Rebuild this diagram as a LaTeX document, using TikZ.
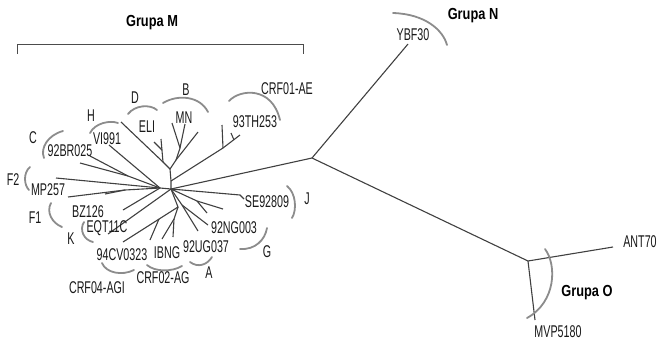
\documentclass[tikz,border=0pt]{standalone}
\usepackage{fontspec}
\setmainfont{Liberation Sans}[FakeStretch=0.63]
\newfontfamily\grp{Liberation Sans}[FakeStretch=0.8]
\begin{document}
\begin{tikzpicture}[x=1pt,y=-1pt]
\tikzset{
  br/.style={draw=black!75, line width=1.1pt},
  grparc/.style={draw=black!45, line width=1.8pt, line cap=round},
  lbl/.style={inner sep=0pt, text=black!90, font=\fontsize{17}{17}\selectfont},
  glbl/.style={inner sep=0pt, text=black, font=\grp\bfseries\fontsize{16}{16}\selectfont}
}
\useasboundingbox (0,0) rectangle (658,341);
% --- tree coordinates
\coordinate (O) at (171,189);
\coordinate (T0) at (171,181);
\coordinate (T1) at (170,169);
\coordinate (M1) at (176,160);
\coordinate (M2) at (180,148);
\coordinate (mn1) at (172,123);
\coordinate (mn2) at (185,124);
\coordinate (mn3) at (198,132);
\coordinate (Hn) at (163,162);
\coordinate (h1) at (121,122);
\coordinate (eli) at (161,139);
\coordinate (E2) at (162,150);
\coordinate (eli2) at (154,142);
\coordinate (H1) at (223,148);
\coordinate (t1) at (240,135);
\coordinate (t2) at (222,125);
\coordinate (T3) at (234,140);
\coordinate (t3) at (231,133);
\coordinate (L1) at (160,188);
\coordinate (vi) at (109,145);
\coordinate (Cn) at (128,176);
\coordinate (c1) at (80,163);
\coordinate (c2) at (90,156);
\coordinate (f2a) at (56,178);
\coordinate (Fn) at (125,190);
\coordinate (f1a) at (68,197);
\coordinate (f1b) at (105,194);
\coordinate (k1) at (123,210);
\coordinate (k2) at (108,234);
\coordinate (D1) at (178,207);
\coordinate (cv) at (123,242);
\coordinate (I1) at (159,219);
\coordinate (i1) at (150,240);
\coordinate (I2) at (174,219);
\coordinate (i2) at (162,239);
\coordinate (i3) at (173,237);
\coordinate (U1) at (182,205);
\coordinate (u1) at (198,231);
\coordinate (u2) at (208,225);
\coordinate (G1) at (197,201);
\coordinate (g1) at (223,209);
\coordinate (g2) at (207,213);
\coordinate (s0) at (240,195);
\coordinate (s1) at (244,199);
\coordinate (N1) at (312,158);
\coordinate (ybf) at (408,44);
\coordinate (O1) at (528,261);
\coordinate (ant) at (613,247);
\coordinate (mvp) at (535,320);
% --- branches
\draw[br] (O) -- (N1);
\draw[br] (N1) -- (ybf);
\draw[br] (N1) -- (O1);
\draw[br] (O1) -- (ant);
\draw[br] (O1) -- (mvp);
\draw[br] (O) -- (T0) -- (T1);
\draw[br] (T1) -- (M1) -- (M2) -- (mn1);
\draw[br] (M2) -- (mn2);
\draw[br] (M1) -- (mn3);
\draw[br] (T1) -- (Hn) -- (h1);
\draw[br] (Hn) -- (eli);
\draw[br] (E2) -- (eli2);
\draw[br] (T0) -- (H1) -- (t1);
\draw[br] (H1) -- (t2);
\draw[br] (T3) -- (t3);
\draw[br] (O) -- (L1);
\draw[br] (L1) -- (vi);
\draw[br] (L1) -- (Cn) -- (c1);
\draw[br] (Cn) -- (c2);
\draw[br] (L1) -- (f2a);
\draw[br] (L1) -- (Fn) -- (f1a);
\draw[br] (Fn) -- (f1b);
\draw[br] (L1) -- (k1);
\draw[br] (O) -- (k2);
\draw[br] (O) -- (D1) -- (cv);
\draw[br] (I1) -- (i1);
\draw[br] (D1) -- (I2) -- (i2);
\draw[br] (I2) -- (i3);
\draw[br] (O) -- (U1) -- (u1);
\draw[br] (U1) -- (u2);
\draw[br] (O) -- (G1) -- (g1);
\draw[br] (G1) -- (g2);
\draw[br] (O) -- (s0) -- (s1);
% --- bracket
\coordinate (bl) at (17,54);
\coordinate (br0) at (303,54);
\draw[draw=black!70, line width=1pt] (bl) -- (17,44) -- (303,44) -- (br0);
% --- group arcs
\draw[grparc] (229,101) .. controls (240,89) and (272,86) .. (280,120);
\draw[grparc] (163,103) .. controls (178,94) and (200,96) .. (208,112);
\draw[grparc] (128,114) .. controls (135,105) and (150,104) .. (157,110);
\draw[grparc] (90,133) .. controls (95,123) and (110,120) .. (118,123);
\draw[grparc] (44,158) .. controls (40,148) and (48,135) .. (63,131);
\draw[grparc] (30,167) .. controls (23,173) and (24,185) .. (29,190);
\draw[grparc] (51,203) .. controls (46,212) and (52,223) .. (62,227);
\draw[grparc] (84,222) .. controls (79,230) and (84,240) .. (93,242);
\draw[grparc] (102,263) .. controls (106,273) and (122,276) .. (134,270);
\draw[grparc] (147,265) .. controls (155,272) and (172,272) .. (182,266);
\draw[grparc] (190,262) .. controls (198,268) and (207,265) .. (212,257);
\draw[grparc] (240,249) .. controls (255,250) and (265,240) .. (267,228);
\draw[grparc] (287,186) .. controls (296,193) and (297,210) .. (292,218);
\draw[grparc] (393,13) .. controls (425,14) and (443,30) .. (447,45);
\draw[grparc] (545,249) .. controls (557,265) and (556,302) .. (527,318);
% --- labels
\node[glbl] (gM) at (152,23) {Grupa M};
\node[glbl] (gN) at (473,16) {Grupa N};
\node[glbl] (gO) at (587,293) {Grupa O};
\node[lbl] (lCRF01) at (287,89) {CRF01-AE};
\node[lbl] (l93TH) at (255,122) {93TH253};
\node[lbl] (lB) at (186,90) {B};
\node[lbl] (lMN) at (184,118) {MN};
\node[lbl] (lD) at (135,98) {D};
\node[lbl] (lELI) at (147,127) {ELI};
\node[lbl] (lH) at (91,116) {H};
\node[lbl] (lVI) at (107,139) {VI991};
\node[lbl] (lC) at (33,138) {C};
\node[lbl] (l92BR) at (70,151) {92BR025};
\node[lbl] (lF2) at (13,180) {F2};
\node[lbl] (lMP) at (48,190) {MP257};
\node[lbl] (lF1) at (35,218) {F1};
\node[lbl] (lBZ) at (88,212) {BZ126};
\node[lbl] (lEQT) at (107,228) {EQT11C};
\node[lbl] (lK) at (71,239) {K};
\node[lbl] (l94CV) at (122,255) {94CV0323};
\node[lbl] (lIBNG) at (167,253) {IBNG};
\node[lbl] (l92UG) at (206,247) {92UG037};
\node[lbl] (lCRF04) at (97,288) {CRF04-AGI};
\node[lbl] (lCRF02) at (163,278) {CRF02-AG};
\node[lbl] (lA) at (209,273) {A};
\node[lbl] (l92NG) at (234,228) {92NG003};
\node[lbl] (lG) at (267,252) {G};
\node[lbl] (lSE) at (267,202) {SE92809};
\node[lbl] (lJ) at (307,199) {J};
\node[lbl] (lYBF) at (413,35) {YBF30};
\node[lbl] (lANT) at (640,242) {ANT70};
\node[lbl] (lMVP) at (558,332) {MVP5180};
\end{tikzpicture}
\end{document}
